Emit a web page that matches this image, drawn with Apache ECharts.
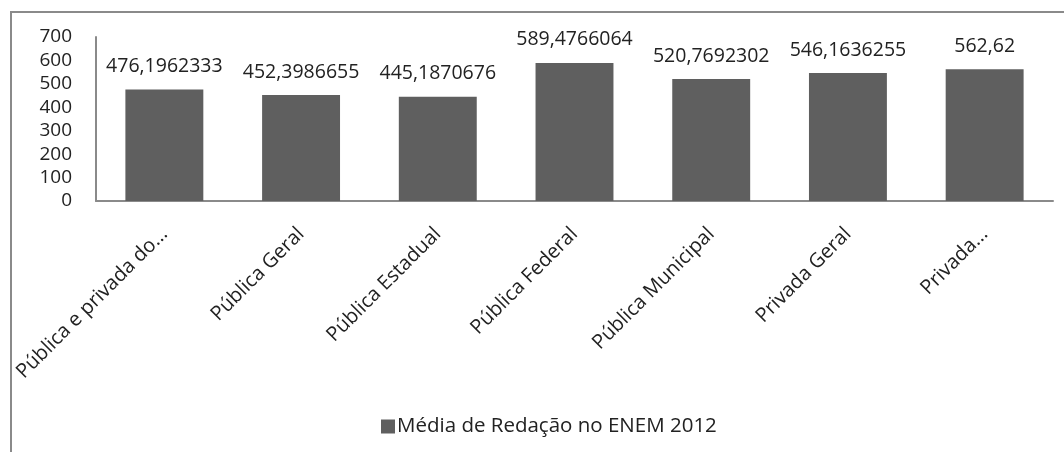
<!DOCTYPE html>
<html>
<head>
<meta charset="utf-8">
<script src="https://cdn.jsdelivr.net/npm/echarts@6/dist/echarts.min.js"></script>
<style>
html,body{margin:0;padding:0;background:#fff;}
#chart{width:1064px;height:452px;}
</style>
</head>
<body>
<div id="chart"></div>
<script>
const categories = ["Pública e privada do...", "Pública Geral", "Pública Estadual", "Pública Federal", "Pública Municipal", "Privada Geral", "Privada..."];
const values = [476.1962333, 452.3986655, 445.1870676, 589.4766064, 520.7692302, 546.1636255, 562.62];
const valueLabels = ["476,1962333", "452,3986655", "445,1870676", "589,4766064", "520,7692302", "546,1636255", "562,62"];
const seriesName = "Média de Redação no ENEM 2012";
const yTicks = [0, 100, 200, 300, 400, 500, 600, 700];

const FONT = "Open Sans";
const chart = echarts.init(document.getElementById('chart'), null, {renderer: 'canvas'});
chart.setOption({
  animation: false,
  backgroundColor: '#ffffff',
  textStyle: {fontFamily: FONT, color: '#222'},
  graphic: [{
    type: 'rect',
    shape: {x: 11, y: 12, width: 1100, height: 500},
    style: {fill: 'none', stroke: '#8a8a8a', lineWidth: 2},
    silent: true
  }],
  grid: {left: 96, right: 11, top: 37, bottom: 251, containLabel: false},
  legend: {
    data: [seriesName],
    left: 381, top: 416, padding: 0,
    itemWidth: 14, itemHeight: 14, itemGap: 0,
    icon: 'rect',
    textStyle: {fontFamily: FONT, fontSize: 20.5, color: '#222', padding: [0, 0, 0, -3]}
  },
  xAxis: {
    type: 'category',
    data: categories,
    axisLine: {show: true, lineStyle: {color: '#8a8a8a', width: 2}},
    axisTick: {show: false},
    axisLabel: {rotate: 45, fontFamily: FONT, fontSize: 20, color: '#222', margin: 30, interval: 0}
  },
  yAxis: {
    type: 'value',
    min: yTicks[0], max: yTicks[yTicks.length - 1], interval: 100,
    axisLine: {show: true, lineStyle: {color: '#8a8a8a', width: 2}},
    axisTick: {show: false},
    splitLine: {show: false},
    axisLabel: {fontFamily: FONT, fontSize: 19, color: '#222', margin: 24}
  },
  series: [{
    name: seriesName,
    type: 'bar',
    data: values,
    barCategoryGap: '43%',
    itemStyle: {color: '#5f5f5f'},
    label: {
      show: true, position: 'top', distance: 13,
      fontFamily: FONT, fontSize: 19.5, color: '#222',
      formatter: p => valueLabels[p.dataIndex]
    }
  }]
});
</script>
</body>
</html>
